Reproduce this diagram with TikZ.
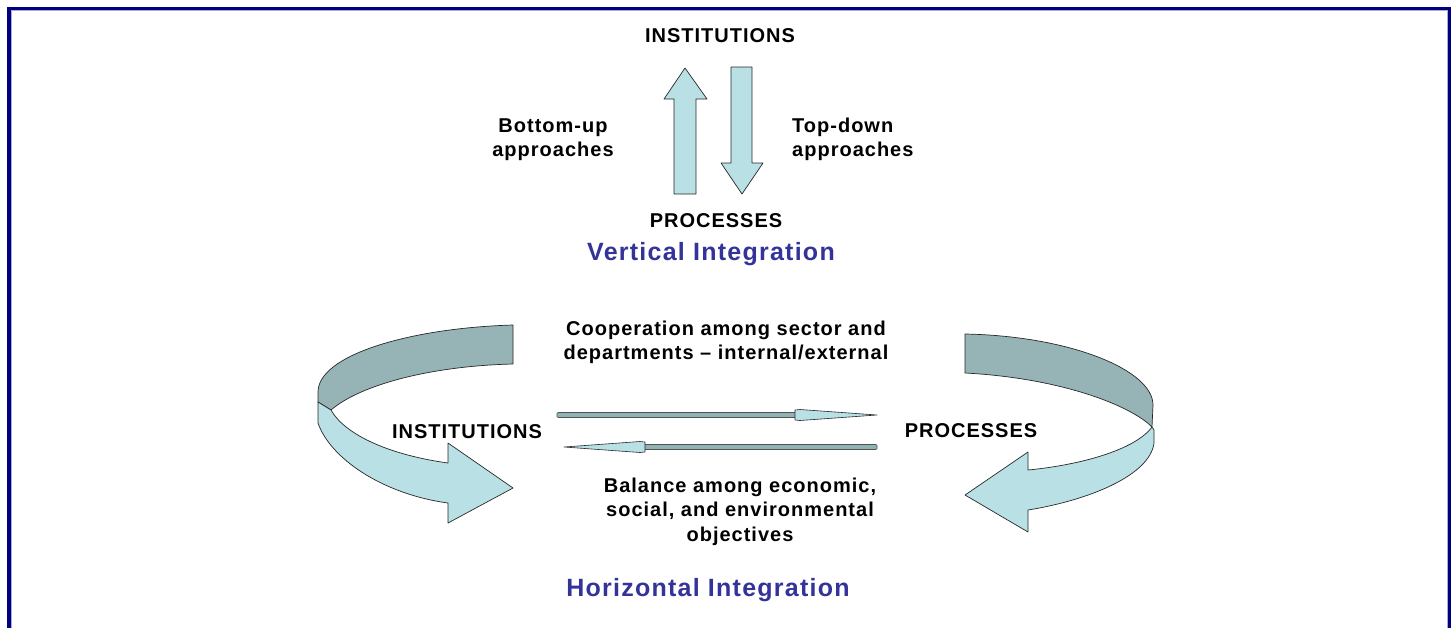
\documentclass[tikz,border=0pt]{standalone}
\usepackage{fontspec}
\setmainfont{Liberation Sans}
\newfontfamily\labfont[LetterSpace=5]{Liberation Sans}
\definecolor{navyframe}{RGB}{0,0,128}
\definecolor{frameedge}{RGB}{170,170,215}
\definecolor{cyanfill}{RGB}{185,224,228}
\definecolor{darkband}{RGB}{150,179,181}
\definecolor{titleblue}{RGB}{51,51,153}
\definecolor{shaftcol}{RGB}{143,178,181}
\definecolor{edgecol}{RGB}{40,40,40}
\tikzset{
  lab/.style={font=\labfont\bfseries\fontsize{20}{24.5}\selectfont, inner sep=0pt, anchor=base},
  ttl/.style={font=\labfont\bfseries\fontsize{25}{30}\selectfont, text=titleblue, inner sep=0pt, anchor=base},
  ribbon/.style={draw=edgecol, line width=0.7pt, line join=round},
  thinshaft/.style={draw=edgecol!80, fill=shaftcol, line width=0.6pt, rounded corners=1pt},
  thinhead/.style={draw=edgecol, fill=cyanfill, line width=0.6pt, line join=round},
}
\begin{document}
\begin{tikzpicture}[x=1pt,y=-1pt]
\useasboundingbox (0,0) rectangle (1455,627);
\fill[white] (0,0) rectangle (1455,627);
% frame
\draw[navyframe, line width=3.5pt] (8.75,640) -- (8.75,8.25) -- (1449.25,8.25) -- (1449.25,640);
\draw[frameedge, line width=1pt] (11,640) -- (11,10.5) -- (1447,10.5) -- (1447,640);

% vertical block arrows
\draw[ribbon, fill=cyanfill] (674,194) -- (674,99) -- (664,99) -- (685,68) -- (707,99) -- (696,99) -- (696,194) -- cycle;
\draw[ribbon, fill=cyanfill] (731,67) -- (752,67) -- (752,163) -- (763,163) -- (742,194) -- (721,163) -- (731,163) -- cycle;

% labels, vertical part (base anchor of a multi-line node = last line)
\node[lab] (instTop) at (720,42.5) {INSTITUTIONS};
\node[lab, align=center] (bup) at (553,156.5) {Bottom-up\\approaches};
\node[lab, align=left, anchor=base west] (tdown) at (792,156.5) {Top-down\\approaches};
\node[lab] (procTop) at (716,227) {PROCESSES};
\node[ttl] (vint) at (711,260) {Vertical Integration};

% left curved arrow
\draw[ribbon, fill=darkband] (513,325) .. controls (410,328) and (318,355) .. (318,392) -- (318,402) -- (331,410) .. controls (360,385) and (430,366) .. (513,364) -- cycle;
\draw[ribbon, fill=cyanfill] (318,402) -- (318,423) .. controls (330,458) and (382,494) .. (448,503) -- (448,523) -- (513,488) -- (448,443) -- (448,463) .. controls (390,455) and (345,435) .. (331,410) -- cycle;

% right curved arrow
\draw[ribbon, fill=darkband] (965,334) .. controls (1070,336) and (1153,370) .. (1153,405) -- (1152,427) .. controls (1130,405) and (1060,378) .. (965,373) -- cycle;
\draw[ribbon, fill=cyanfill] (1152,427) -- (1154,430) -- (1154,443) .. controls (1150,475) and (1090,500) .. (1028,510) -- (1028,532) -- (965,495) -- (1028,452) -- (1028,470) .. controls (1080,465) and (1135,450) .. (1152,427) -- cycle;

% thin arrows
\draw[thinshaft] (557,412.5) rectangle (797,417.5);
\draw[thinhead] (795,410) -- (800,409.5) -- (877,415) -- (800,420.5) -- (795,420) -- cycle;
\draw[thinshaft] (643,444.5) rectangle (877,449.5);
\draw[thinhead] (645,442) -- (640,441.5) -- (564,447) -- (640,452.5) -- (645,452) -- cycle;

% labels, horizontal part
\node[lab, align=center] (coop) at (726,359.5) {Cooperation among sector and\\departments – internal/external};
\node[lab] (instMid) at (467,438) {INSTITUTIONS};
\node[lab] (procMid) at (971,437.5) {PROCESSES};
\node[lab, align=center] (bal) at (740,541) {Balance among economic,\\social, and environmental\\objectives};
\node[ttl] (hint) at (708,596) {Horizontal Integration};
\end{tikzpicture}
\end{document}
